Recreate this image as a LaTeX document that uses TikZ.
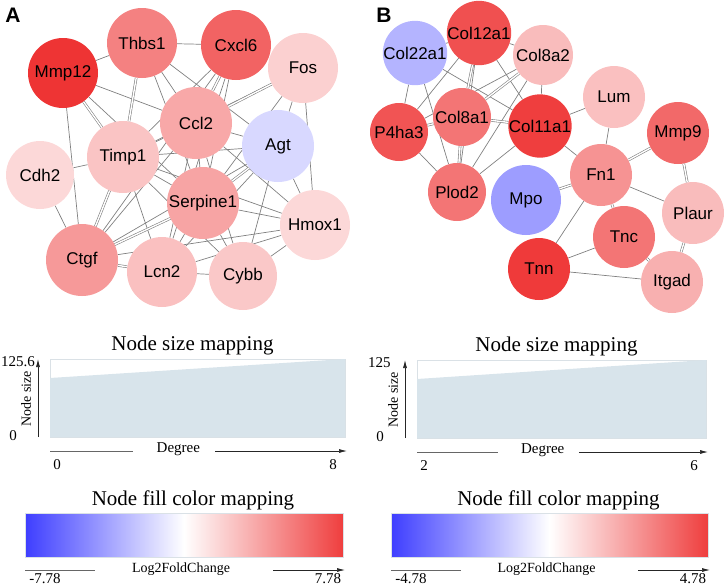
\documentclass[tikz,border=0pt]{standalone}
\usepackage{fontspec}
\setmainfont{Liberation Serif}
\setsansfont{Liberation Sans}
\usetikzlibrary{arrows.meta}
\definecolor{upRed}{RGB}{238,52,52}
\definecolor{downBlue}{RGB}{62,62,255}
\definecolor{edgeGray}{RGB}{128,128,128}
\definecolor{sizeFill}{RGB}{216,228,235}
\definecolor{frameGray}{RGB}{218,225,230}
\pgfdeclarelayer{edgeLayer}
\pgfsetlayers{edgeLayer,main}
\newcommand{\titleFont}{\fontsize{21}{24}\selectfont}
\newcommand{\tickFont}{\fontsize{15}{17}\selectfont}
\newcommand{\geneFont}{\fontsize{17}{19}\selectfont\sffamily}
\newcommand{\gene}[5]{%%
  %% #1 name and label, (#2,#3) centre, #4 radius, #5 fill.
  \node[geneStyle,minimum size=2*#4,fill=#5] (#1) at (#2,#3) {#1};
}
\newcommand{\sizeLegend}[5]{%%
  %% #1 prefix, #2 width, #3 top value, #4 first degree, #5 last degree.
  \draw[frameStyle] (0,0) rectangle (#2,78);
  \fill[sizeFill] (0,78) -- (0,19) -- (#2,0) -- (#2,78) -- cycle;
  \node[titleStyle] (#1title) at (#2/2-5,-14) {Node size mapping};
  %% The y-axis.
  \coordinate (#1ystart) at (-12,78);
  \coordinate (#1yend) at (-12,0);
  \draw[axisStyle] (#1ystart) -- (#1yend);
  \node[tickStyle,anchor=west] (#1ymax) at (-49,3) {#3};
  \node[tickStyle] (#1ymin) at (-37,77) {0};
  \node[tickStyle,rotate=90,font=\fontsize{14}{16}\selectfont] (#1ylabel) at (-24,40) {Node size};
  %% The x-axis.
  \coordinate (#1xstart) at (0,92);
  \coordinate (#1xmid) at (0.28*#2,92);
  \coordinate (#1xgo) at (0.56*#2,92);
  \coordinate (#1xend) at (#2+2,92);
  \draw[lineStyle] (#1xstart) -- (#1xmid);
  \draw[axisStyle] (#1xgo) -- (#1xend);
  \node[tickStyle] (#1xlabel) at (0.435*#2,90) {Degree};
  \node[tickStyle] (#1xmin) at (7,106) {#4};
  \node[tickStyle] (#1xmax) at (#2-12,106) {#5};
}
\newcommand{\colorLegend}[3]{%%
  %% #1 prefix, #2 width, #3 largest fold change.
  \node[titleStyle] (#1title) at (#2/2+9,-13) {Node fill color mapping};
  \shade[left color=downBlue,right color=white] (0,0) rectangle (#2/2,44);
  \shade[left color=white,right color=upRed!95!white] (#2/2,0) rectangle (#2,44);
  \draw[frameStyle] (0,0) rectangle (#2,44);
  \coordinate (#1xstart) at (0,57);
  \coordinate (#1xmid) at (70,57);
  \coordinate (#1xgo) at (#2-70,57);
  \coordinate (#1xend) at (#2+2,57);
  \draw[lineStyle] (#1xstart) -- (#1xmid);
  \draw[axisStyle] (#1xgo) -- (#1xend);
  \node[tickStyle,font=\fontsize{14}{16}\selectfont] (#1xlabel) at (#2/2-3,56) {Log2FoldChange};
  \node[tickStyle] (#1xmin) at (20,66) {-#3};
  \node[tickStyle] (#1xmax) at (#2-15,66) {#3};
}

\begin{document}
\begin{tikzpicture}[x=1pt,y=-1pt,%%
  geneStyle/.style={circle,inner sep=0pt,font=\geneFont},%%
  edgeStyle/.style={draw=edgeGray,line width=0.7pt},%%
  doubleEdge/.style={draw=edgeGray,line width=0.6pt,double=white,double distance=1.4pt},%%
  axisStyle/.style={-{Latex[length=8pt,width=4pt]},line width=0.7pt,black!85},%%
  lineStyle/.style={-,line width=0.7pt,black!60},%%
  frameStyle/.style={draw=frameGray,line width=0.6pt},%%
  titleStyle/.style={inner sep=0pt,font=\titleFont},%%
  tickStyle/.style={inner sep=0pt,font=\tickFont},%%
  panelStyle/.style={inner sep=0pt,font=\fontsize{21}{24}\selectfont\sffamily\bfseries}%%
]
\useasboundingbox (0,0) rectangle (726,587);
%%
%% Panel A.
\node[panelStyle] (panelA) at (13,15) {A};
\gene{Mmp12}{63}{73}{35}{upRed}
\gene{Thbs1}{142}{43}{35}{upRed!62!white}
\gene{Cxcl6}{236}{45}{35}{upRed!77!white}
\gene{Fos}{303}{68}{35}{upRed!23!white}
\gene{Ccl2}{196}{123}{36}{upRed!43!white}
\gene{Agt}{278}{146}{36}{downBlue!20!white}
\gene{Timp1}{123}{157}{36}{upRed!29!white}
\gene{Cdh2}{40}{175}{34}{upRed!19!white}
\gene{Serpine1}{203}{203}{36}{upRed!45!white}
\gene{Hmox1}{315}{225}{35}{upRed!19!white}
\gene{Ctgf}{82}{260}{36}{upRed!50!white}
\gene{Lcn2}{162}{272}{35}{upRed!31!white}
\gene{Cybb}{243}{276}{34}{upRed!27!white}
\begin{pgfonlayer}{edgeLayer}
\foreach \a/\b in {Mmp12/Thbs1,Mmp12/Ccl2,Mmp12/Ctgf,Mmp12/Serpine1,
  Thbs1/Cxcl6,Thbs1/Ccl2,Thbs1/Agt,Thbs1/Serpine1,
  Cxcl6/Timp1,Cxcl6/Serpine1,Cxcl6/Ctgf,Cxcl6/Lcn2,
  Fos/Timp1,Fos/Serpine1,Fos/Agt,Fos/Hmox1,
  Ccl2/Agt,Ccl2/Timp1,Ccl2/Serpine1,Ccl2/Hmox1,Ccl2/Ctgf,Ccl2/Lcn2,Ccl2/Cybb,
  Agt/Hmox1,Agt/Cybb,Agt/Ctgf,Agt/Timp1,Agt/Lcn2,
  Timp1/Cdh2,Timp1/Serpine1,Timp1/Lcn2,Timp1/Hmox1,Timp1/Cybb,
  Cdh2/Ctgf,Serpine1/Hmox1,Serpine1/Lcn2,Serpine1/Cybb,
  Hmox1/Lcn2,Hmox1/Cybb,Hmox1/Ctgf,Lcn2/Cybb}
  \draw[edgeStyle] (\a) -- (\b);
\foreach \a/\b in {Mmp12/Timp1,Thbs1/Timp1,Cxcl6/Ccl2,Fos/Ccl2,
  Agt/Serpine1,Timp1/Ctgf,Serpine1/Ctgf,Ctgf/Lcn2}
  \draw[doubleEdge] (\a) -- (\b);
\end{pgfonlayer}
%%
%% Panel B.
\node[panelStyle] (panelB) at (384,15) {B};
\gene{Col22a1}{415}{53}{30}{downBlue!39!white}
\gene{Col12a1}{479}{33}{29}{upRed!86!white}
\gene{Col8a2}{543}{55}{30}{upRed!33!white}
\gene{Lum}{614}{97}{31}{upRed!31!white}
\gene{P4ha3}{399}{132}{29}{upRed!84!white}
\gene{Col8a1}{462}{117}{29}{upRed!68!white}
\gene{Col11a1}{540}{126}{29}{upRed!95!white}
\gene{Mmp9}{678}{133}{31}{upRed!74!white}
\gene{Fn1}{601}{175}{31}{upRed!53!white}
\gene{Plod2}{457}{192}{29}{upRed!68!white}
\gene{Mpo}{526}{200}{35}{downBlue!51!white}
\gene{Plaur}{693}{213}{31}{upRed!33!white}
\gene{Tnc}{624}{237}{31}{upRed!68!white}
\gene{Tnn}{539}{269}{31}{upRed!97!white}
\gene{Itgad}{672}{282}{31}{upRed!39!white}
\begin{pgfonlayer}{edgeLayer}
\foreach \a/\b in {Col22a1/Col12a1,Col12a1/Col8a2,Col22a1/P4ha3,Col22a1/Col11a1,
  Col22a1/Plod2,Col12a1/P4ha3,Col12a1/Col11a1,Col12a1/Plod2,
  Col8a2/P4ha3,Col8a2/Col11a1,Col8a2/Plod2,P4ha3/Plod2,
  Col11a1/Lum,Col11a1/Fn1,Col11a1/Plod2,Lum/Fn1,Fn1/Plaur,
  Fn1/Tnn,Tnc/Tnn,Tnn/Itgad}
  \draw[edgeStyle] (\a) -- (\b);
\foreach \a/\b in {Col12a1/Col8a1,Col8a2/Col8a1,P4ha3/Col8a1,Col8a1/Col11a1,
  Col8a1/Plod2,Fn1/Mmp9,Fn1/Mpo,Fn1/Tnc,Mmp9/Plaur,Tnc/Itgad,Plaur/Itgad}
  \draw[doubleEdge] (\a) -- (\b);
\end{pgfonlayer}
%%
%% Legends.
\begin{scope}[shift={(50,359)}]
  \sizeLegend{sizeA}{295}{125.6}{0}{8}
\end{scope}
\begin{scope}[shift={(417,360)}]
  \sizeLegend{sizeB}{289}{125}{2}{6}
\end{scope}
\begin{scope}[shift={(25,513)}]
  \colorLegend{colorA}{318}{7.78}
\end{scope}
\begin{scope}[shift={(391,513)}]
  \colorLegend{colorB}{317}{4.78}
\end{scope}
\end{tikzpicture}
\end{document}
